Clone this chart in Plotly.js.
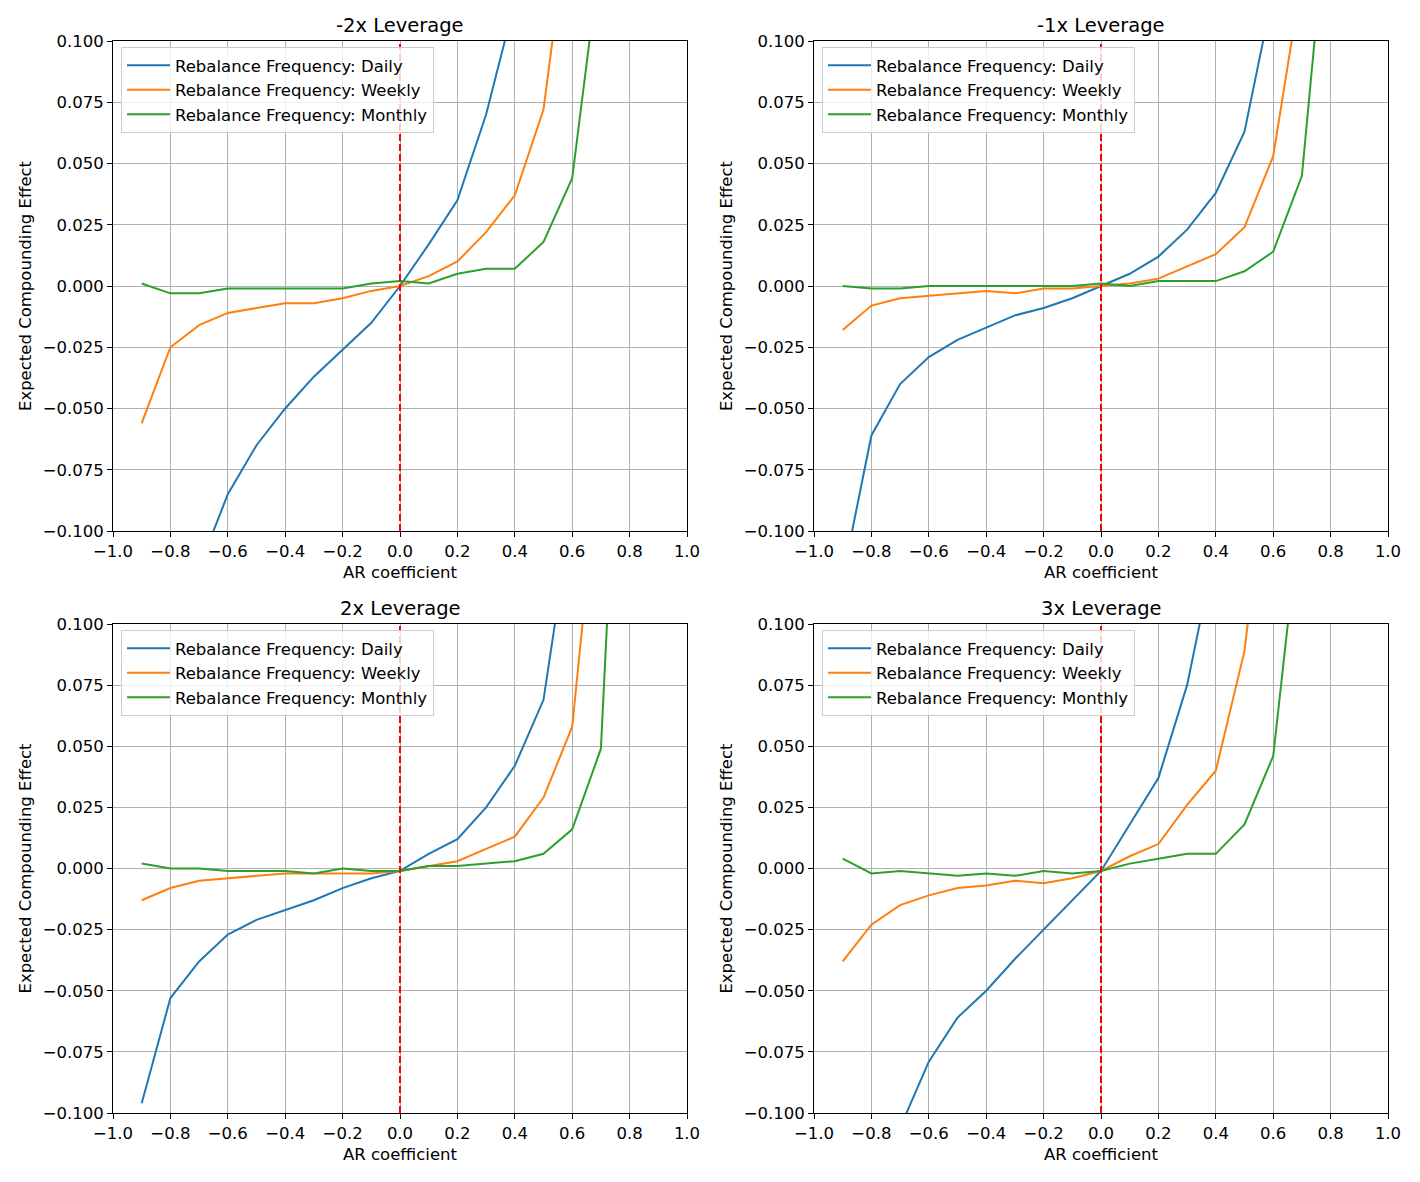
<!DOCTYPE html>
<html>
<head>
<meta charset="utf-8">
<script src="https://cdn.plot.ly/plotly-3.0.1.min.js"></script>
<style>
  body { margin: 0; background: #fff; }
  #plot { width: 1420px; height: 1182px; }
</style>
</head>
<body>
<div id="plot"></div>
<script>
// AR coefficients on the x axis
let arCoef = [-0.9, -0.8, -0.7, -0.6, -0.5, -0.4, -0.3, -0.2, -0.1, 0.0,
              0.1, 0.2, 0.3, 0.4, 0.5, 0.6, 0.7, 0.8];

// -2x leverage
let m2Daily   = [null, null, -0.115, -0.085, -0.065, -0.050, -0.037, -0.026, -0.015, 0.000, 0.017, 0.035, 0.070, 0.116, null, null, null, null];
let m2Weekly  = [-0.056, -0.025, -0.016, -0.011, -0.009, -0.007, -0.007, -0.005, -0.002, 0.000, 0.004, 0.010, 0.022, 0.037, 0.072, 0.162, null, null];
let m2Monthly = [0.001, -0.003, -0.003, -0.001, -0.001, -0.001, -0.001, -0.001, 0.001, 0.002, 0.001, 0.005, 0.007, 0.007, 0.018, 0.044, 0.137, null];

// -1x leverage
let m1Daily   = [-0.119, -0.061, -0.040, -0.029, -0.022, -0.017, -0.012, -0.009, -0.005, 0.000, 0.005, 0.012, 0.023, 0.038, 0.063, 0.120, null, null];
let m1Weekly  = [-0.018, -0.008, -0.005, -0.004, -0.003, -0.002, -0.003, -0.001, -0.001, 0.000, 0.001, 0.003, 0.008, 0.013, 0.024, 0.053, 0.126, null];
let m1Monthly = [0.000, -0.001, -0.001, 0.000, 0.000, 0.000, 0.000, 0.000, 0.000, 0.001, 0.000, 0.002, 0.002, 0.002, 0.006, 0.014, 0.045, 0.170];

// 2x leverage
let p2Daily   = [-0.096, -0.053, -0.038, -0.027, -0.021, -0.017, -0.013, -0.008, -0.004, -0.001, 0.006, 0.012, 0.025, 0.042, 0.069, 0.147, null, null];
let p2Weekly  = [-0.013, -0.008, -0.005, -0.004, -0.003, -0.002, -0.002, -0.002, -0.002, -0.001, 0.001, 0.003, 0.008, 0.013, 0.029, 0.058, 0.175, null];
let p2Monthly = [0.002, 0.000, 0.000, -0.001, -0.001, -0.001, -0.002, 0.000, -0.001, -0.001, 0.001, 0.001, 0.002, 0.003, 0.006, 0.016, 0.049, 0.290];

// 3x leverage
let p3Daily   = [null, null, -0.106, -0.079, -0.061, -0.050, -0.037, -0.025, -0.013, -0.001, 0.018, 0.037, 0.075, 0.132, null, null, null, null];
let p3Weekly  = [-0.038, -0.023, -0.015, -0.011, -0.008, -0.007, -0.005, -0.006, -0.004, -0.001, 0.005, 0.010, 0.026, 0.040, 0.089, 0.189, null, null];
let p3Monthly = [0.004, -0.002, -0.001, -0.002, -0.003, -0.002, -0.003, -0.001, -0.002, -0.001, 0.002, 0.004, 0.006, 0.006, 0.018, 0.046, 0.152, null];

let panelTitles = ['-2x Leverage', '-1x Leverage', '2x Leverage', '3x Leverage'];
let seriesNames = ['Rebalance Frequency: Daily', 'Rebalance Frequency: Weekly', 'Rebalance Frequency: Monthly'];
let seriesColors = ['#1f77b4', '#ff7f0e', '#2ca02c'];
let panels = [
  [m2Daily, m2Weekly, m2Monthly],
  [m1Daily, m1Weekly, m1Monthly],
  [p2Daily, p2Weekly, p2Monthly],
  [p3Daily, p3Weekly, p3Monthly]
];

let W = 1420, H = 1182;
let font = 'DejaVu Sans, sans-serif';
let fs = 16.5;
// pixel boxes of the four axes: [left, right, top, bottom]
let boxes = [
  [113, 687, 41, 531],
  [814, 1388, 41, 531],
  [113, 687, 624, 1113],
  [814, 1388, 624, 1113]
];

let data = [];
let layout = {
  width: W,
  height: H,
  margin: {l: 0, r: 0, t: 0, b: 0},
  paper_bgcolor: 'white',
  plot_bgcolor: 'white',
  font: {family: font, size: fs, color: '#000'},
  showlegend: true,
  annotations: [],
  shapes: []
};

panels.forEach(function (series, i) {
  let n = i + 1;
  let sfx = n === 1 ? '' : String(n);
  let legName = 'legend' + sfx;
  series.forEach(function (vals, k) {
    data.push({
      x: arCoef,
      y: vals,
      type: 'scatter',
      mode: 'lines',
      name: seriesNames[k],
      legend: legName,
      xaxis: 'x' + sfx,
      yaxis: 'y' + sfx,
      line: {color: seriesColors[k], width: 2},
      connectgaps: false
    });
  });

  let b = boxes[i];
  layout['xaxis' + sfx] = {
    domain: [b[0] / W, b[1] / W],
    anchor: 'y' + sfx,
    range: [-1, 1],
    tickvals: [-1, -0.8, -0.6, -0.4, -0.2, 0, 0.2, 0.4, 0.6, 0.8, 1],
    tickformat: '.1f',
    ticks: 'outside', ticklen: 5, tickcolor: '#000',
    showline: true, mirror: true, linecolor: '#000', linewidth: 1,
    showgrid: true, gridcolor: '#b0b0b0', gridwidth: 1,
    zeroline: false,
    tickfont: {family: font, size: fs, color: '#000'},
    title: {text: 'AR coefficient', font: {family: font, size: fs, color: '#000'}, standoff: 6}
  };
  layout['yaxis' + sfx] = {
    domain: [1 - b[3] / H, 1 - b[2] / H],
    anchor: 'x' + sfx,
    range: [-0.1, 0.1],
    tickvals: [-0.1, -0.075, -0.05, -0.025, 0, 0.025, 0.05, 0.075, 0.1],
    tickformat: '.3f',
    ticks: 'outside', ticklen: 5, tickcolor: '#000',
    showline: true, mirror: true, linecolor: '#000', linewidth: 1,
    showgrid: true, gridcolor: '#b0b0b0', gridwidth: 1,
    zeroline: false,
    tickfont: {family: font, size: fs, color: '#000'},
    title: {text: 'Expected Compounding Effect', font: {family: font, size: fs, color: '#000'}, standoff: 6}
  };
  layout[legName] = {
    x: (b[0] + 8) / W,
    y: 1 - (b[2] + 6) / H,
    xanchor: 'left',
    yanchor: 'top',
    bgcolor: 'rgba(255,255,255,0.8)',
    bordercolor: '#cccccc',
    borderwidth: 1,
    font: {family: font, size: fs, color: '#000'},
    itemwidth: 43,
    tracegroupgap: 0
  };
  layout.annotations.push({
    text: panelTitles[i],
    xref: 'x' + sfx + ' domain', yref: 'y' + sfx + ' domain',
    x: 0.5, y: 1, xanchor: 'center', yanchor: 'bottom', yshift: 2,
    showarrow: false,
    font: {family: font, size: 19.5, color: '#000'}
  });
  // red dashed line at AR coefficient = 0
  layout.shapes.push({
    type: 'line',
    xref: 'x' + sfx, yref: 'y' + sfx + ' domain',
    x0: 0, x1: 0, y0: 0, y1: 1,
    line: {color: 'red', width: 2, dash: '7px,3px'}
  });
});

Plotly.newPlot('plot', data, layout, {displayModeBar: false, staticPlot: true});
</script>
</body>
</html>
